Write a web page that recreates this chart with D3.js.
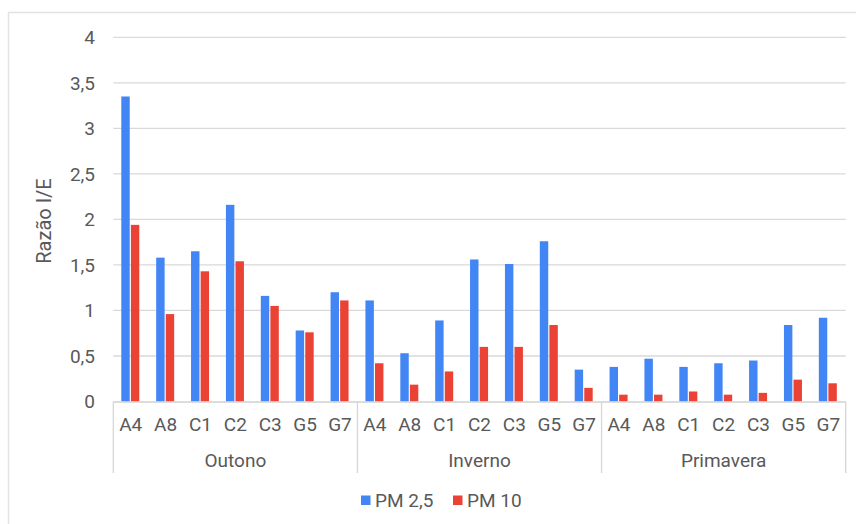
<!DOCTYPE html>
<html><head><meta charset="utf-8">
<script src="https://cdn.jsdelivr.net/npm/d3@7"></script>
<style>body{margin:0;background:#fff}svg{display:block;font-family:Roboto,Arial,sans-serif}</style>
</head><body><svg id="c" width="856" height="524"></svg>
<script>
const groups = ["Outono", "Inverno", "Primavera"];
const sites = ["A4", "A8", "C1", "C2", "C3", "G5", "G7"];
const seriesNames = ["PM 2,5", "PM 10"];
const pm25 = [3.35, 1.58, 1.65, 2.16, 1.16, 0.78, 1.20,
              1.11, 0.53, 0.89, 1.56, 1.51, 1.76, 0.35,
              0.38, 0.47, 0.38, 0.42, 0.45, 0.84, 0.92];
const pm10 = [1.94, 0.96, 1.43, 1.54, 1.05, 0.76, 1.11,
              0.42, 0.185, 0.33, 0.60, 0.60, 0.84, 0.15,
              0.075, 0.075, 0.11, 0.075, 0.095, 0.24, 0.20];
const yTicks = [0, 0.5, 1, 1.5, 2, 2.5, 3, 3.5, 4];
const colors = ["#4285f4", "#ea4335"];

const svg = d3.select("#c");
const textCol = "#595959";
const FS = 19;
const L = 113.3, R = 845.7, T = 37.3, B = 401.5;

// outer frame
svg.append("path").attr("d", "M8.5,524V12.5H856").attr("fill", "none").attr("stroke", "#e3e3e3").attr("stroke-width", 1.5);

const keys = [];
groups.forEach(g => sites.forEach(s => keys.push(g + "|" + s)));
const x0 = d3.scaleBand().domain(keys).range([L, R]);
const xg = d3.scaleBand().domain(groups).range([L, R]);
const x1 = d3.scaleBand().domain(seriesNames).range([8.0, 26.0]).paddingInner(0.12);
const y = d3.scaleLinear().domain([0, 4]).range([B, T]);

// gridlines
svg.append("g").selectAll("line").data(yTicks.filter(d => d > 0)).join("line")
  .attr("x1", L).attr("x2", R).attr("y1", d => y(d)).attr("y2", d => y(d))
  .attr("stroke", "#d9d9d9").attr("stroke-width", 1.3);

// y tick labels
const fmt = d => String(d).replace(".", ",");
svg.append("g").selectAll("text").data(yTicks).join("text")
  .attr("x", 95).attr("y", d => y(d)).attr("dy", "0.36em")
  .attr("text-anchor", "end").attr("fill", textCol).attr("font-size", FS)
  .text(fmt);

// y title
svg.append("text").attr("transform", "translate(51,221) rotate(-90)")
  .attr("text-anchor", "middle").attr("fill", textCol).attr("font-size", 20)
  .text("Razão I/E");

// bars
const data = keys.map((k, i) => ({ k, vals: [pm25[i], pm10[i]] }));
const cg = svg.append("g").selectAll("g").data(data).join("g")
  .attr("transform", d => `translate(${x0(d.k)},0)`);
cg.selectAll("rect").data(d => d.vals.map((v, j) => ({ v, s: seriesNames[j], c: colors[j] }))).join("rect")
  .attr("x", d => x1(d.s)).attr("width", x1.bandwidth())
  .attr("y", d => y(d.v)).attr("height", d => B - y(d.v))
  .attr("fill", d => d.c);

// category axis
svg.append("line").attr("x1", L).attr("x2", R).attr("y1", B + 0.5).attr("y2", B + 0.5)
  .attr("stroke", "#d0d0d0").attr("stroke-width", 1.3);
const seps = groups.map(g => xg(g)).concat([R]);
svg.append("g").selectAll("line").data(seps).join("line")
  .attr("x1", d => d).attr("x2", d => d).attr("y1", B).attr("y2", 473)
  .attr("stroke", "#d6d6d6").attr("stroke-width", 1.3);

svg.append("g").selectAll("text").data(keys).join("text")
  .attr("x", d => x0(d) + x0.bandwidth() / 2).attr("y", 431)
  .attr("text-anchor", "middle").attr("fill", textCol).attr("font-size", FS)
  .text(d => d.split("|")[1]);

svg.append("g").selectAll("text").data(groups).join("text")
  .attr("x", d => xg(d) + xg.bandwidth() / 2).attr("y", 467)
  .attr("text-anchor", "middle").attr("fill", textCol).attr("font-size", FS)
  .text(d => d);

// legend
const leg = [{ n: seriesNames[0], c: colors[0], x: 361 }, { n: seriesNames[1], c: colors[1], x: 453 }];
const lg = svg.append("g").selectAll("g").data(leg).join("g");
lg.append("rect").attr("x", d => d.x).attr("y", 495.5).attr("width", 9.5).attr("height", 9.5).attr("fill", d => d.c);
lg.append("text").attr("x", d => d.x + 14).attr("y", 500).attr("dy", "0.36em")
  .attr("fill", textCol).attr("font-size", FS).text(d => d.n);
</script></body></html>
